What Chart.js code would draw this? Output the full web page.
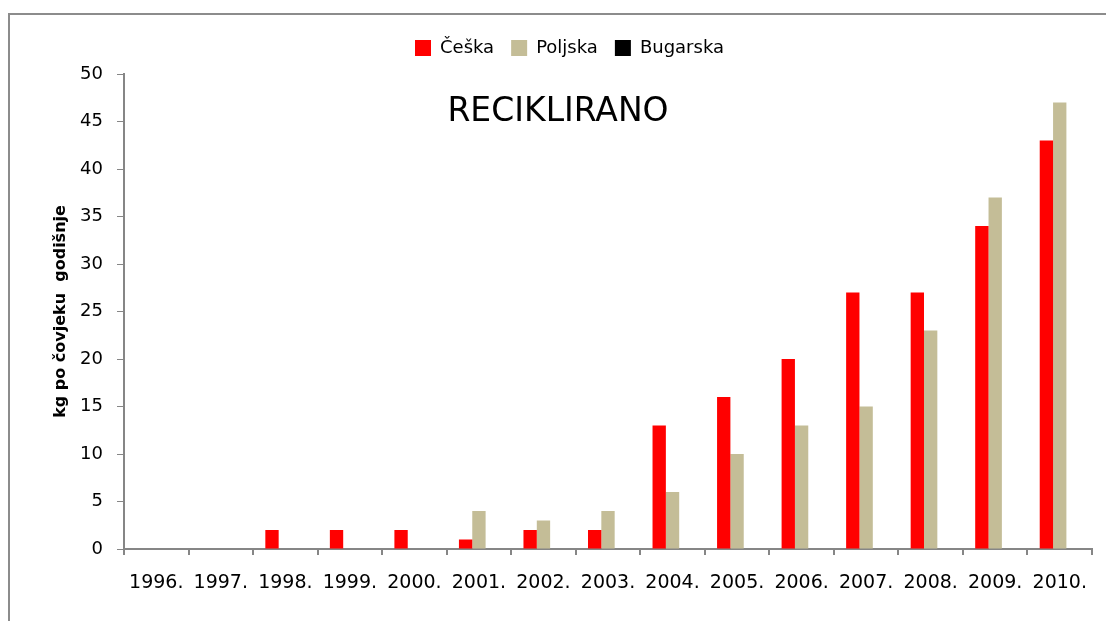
<!DOCTYPE html>
<html>
<head>
<meta charset="utf-8">
<script src="https://cdn.jsdelivr.net/npm/chart.js@4/dist/chart.umd.min.js"></script>
<style>
  html, body { margin: 0; padding: 0; background: #fff; }
  #wrap { width: 1106px; height: 621px; position: relative; }
</style>
</head>
<body>
<div id="wrap"><canvas id="c" width="1106" height="621"></canvas></div>
<script>
const categories = ['1996.', '1997.', '1998.', '1999.', '2000.', '2001.', '2002.', '2003.', '2004.', '2005.', '2006.', '2007.', '2008.', '2009.', '2010.'];
const ceska    = [0, 0, 2, 2, 2, 1, 2, 2, 13, 16, 20, 27, 27, 34, 43];
const poljska  = [0, 0, 0, 0, 0, 4, 3, 4, 6, 10, 13, 15, 23, 37, 47];
const bugarska = [0, 0, 0, 0, 0, 0, 0, 0, 0, 0, 0, 0, 0, 0, 0];
const seriesNames = ['Češka', 'Poljska', 'Bugarska'];
const yTicks = [0, 5, 10, 15, 20, 25, 30, 35, 40, 45, 50];
const chartTitle = 'RECIKLIRANO';
const yAxisTitle = 'kg po čovjeku  godišnje';

const FONT = "'DejaVu Sans', sans-serif";
const AXIS_GRAY = '#868686';

const frame = {
  id: 'frame',
  beforeLayout(chart) {
    const lg = chart.legend;
    if (lg && !lg._extraPatched) {
      const orig = lg.fit.bind(lg);
      lg.fit = function () { orig(); this.height += 7; };
      lg._extraPatched = true;
    }
  },
  beforeDraw(chart) {
    const ctx = chart.ctx;
    ctx.save();
    ctx.fillStyle = '#ffffff';
    ctx.fillRect(0, 0, chart.width, chart.height);
    ctx.strokeStyle = '#8c8c8c';
    ctx.lineWidth = 2;
    ctx.strokeRect(9, 14, 3000, 3000);
    ctx.restore();
  },
  afterDraw(chart) {
    const ctx = chart.ctx;
    ctx.save();
    ctx.fillStyle = '#000';
    ctx.font = "33px " + FONT;
    ctx.textAlign = 'center';
    ctx.textBaseline = 'middle';
    ctx.fillText(chartTitle, 558, 112);
    ctx.restore();
  }
};

new Chart(document.getElementById('c'), {
  type: 'bar',
  data: {
    labels: categories,
    datasets: [
      { label: seriesNames[0], data: ceska, backgroundColor: '#ff0000', borderWidth: 0 },
      { label: seriesNames[1], data: poljska, backgroundColor: '#c4bd97', borderWidth: 0 },
      { label: seriesNames[2], data: bugarska, backgroundColor: '#000000', borderWidth: 0 }
    ]
  },
  options: {
    responsive: false,
    animation: false,
    devicePixelRatio: 1,
    layout: { padding: { left: 47, right: 14, top: 22, bottom: 0 } },
    datasets: { bar: { categoryPercentage: 0.62, barPercentage: 1.0 } },
    plugins: {
      legend: {
        position: 'top',
        labels: {
          color: '#000',
          font: { family: FONT, size: 18 },
          boxWidth: 16,
          boxHeight: 16,
          padding: 17
        }
      },
      tooltip: { enabled: false }
    },
    scales: {
      x: {
        grid: { display: true, drawOnChartArea: false, drawTicks: true, tickLength: 6, color: AXIS_GRAY, lineWidth: 2, offset: true },
        border: { display: true, color: AXIS_GRAY, width: 2 },
        ticks: { color: '#000', font: { family: FONT, size: 19 }, padding: 17, maxRotation: 0, autoSkip: false },
        afterFit(scale) { scale.height = 72; }
      },
      y: {
        min: 0, max: 50,
        afterBuildTicks(scale) { scale.ticks = yTicks.map(v => ({ value: v })); },
        grid: { display: true, drawOnChartArea: false, drawTicks: true, tickLength: 7, color: AXIS_GRAY, lineWidth: 1 },
        border: { display: true, color: AXIS_GRAY, width: 2 },
        ticks: { color: '#000', font: { family: FONT, size: 18 }, padding: 14 },
        title: { display: true, text: yAxisTitle, color: '#000', font: { family: FONT, size: 16, weight: 'bold' } },
        afterFit(scale) { scale.width = 77; }
      }
    }
  },
  plugins: [frame]
});
</script>
</body>
</html>
